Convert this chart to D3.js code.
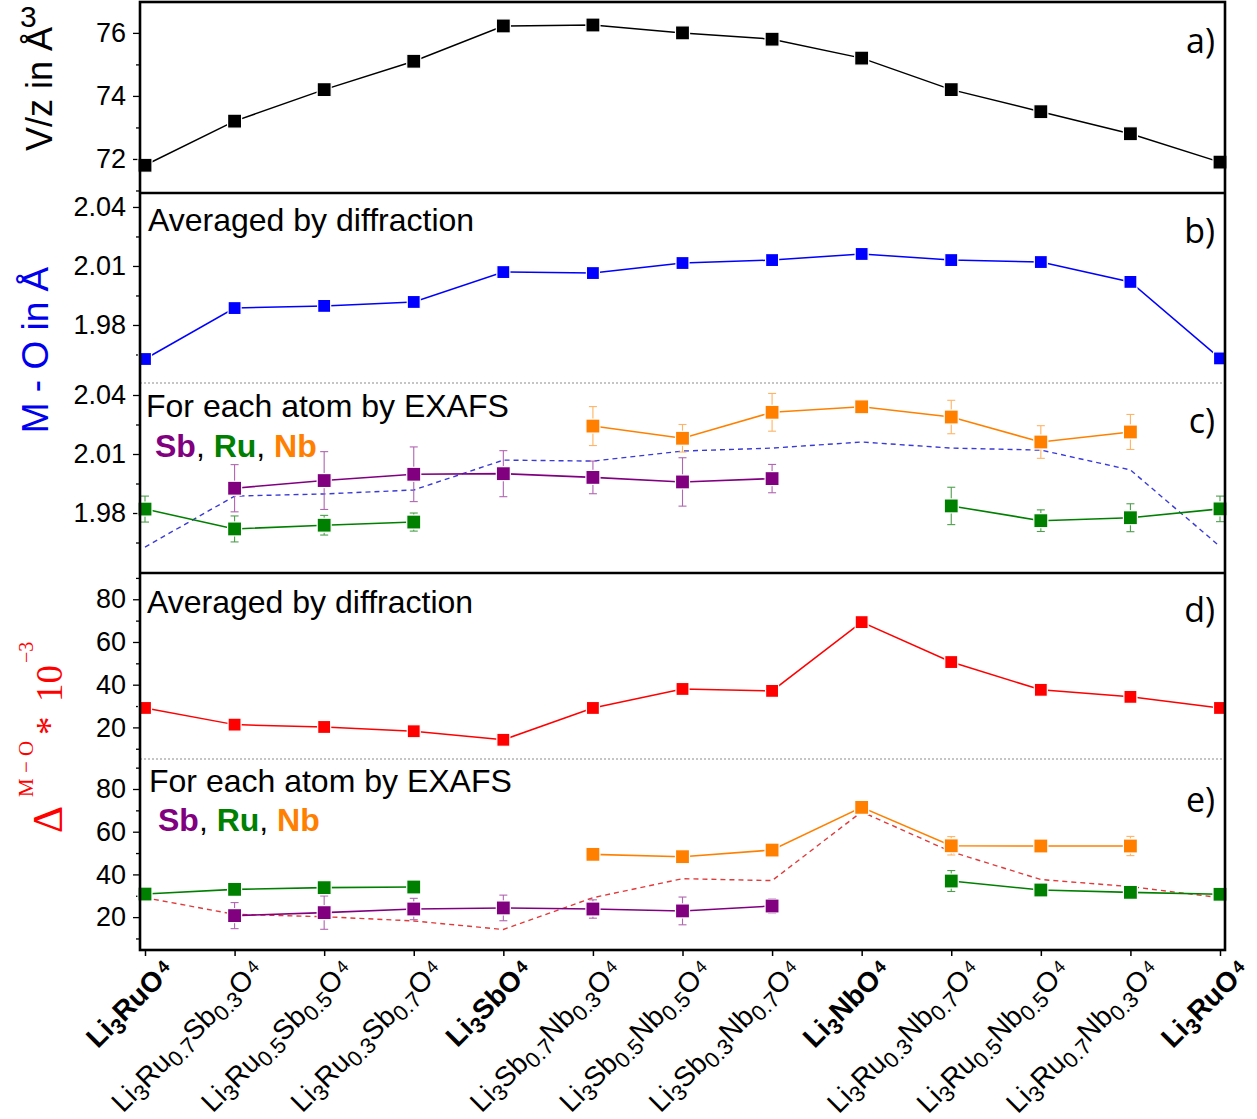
<!DOCTYPE html>
<html><head><meta charset="utf-8">
<script src="https://cdn.jsdelivr.net/npm/d3@7"></script>
<style>body{margin:0;background:#fff}svg{display:block}</style>
</head><body>
<svg id="chart" width="1257" height="1119"></svg>
<script>
// ---------------- DATA ----------------
const categories = ["Li3RuO4","Li3Ru0.7Sb0.3O4","Li3Ru0.5Sb0.5O4","Li3Ru0.3Sb0.7O4","Li3SbO4",
  "Li3Sb0.7Nb0.3O4","Li3Sb0.5Nb0.5O4","Li3Sb0.3Nb0.7O4","Li3NbO4",
  "Li3Ru0.3Nb0.7O4","Li3Ru0.5Nb0.5O4","Li3Ru0.7Nb0.3O4","Li3RuO4"];
const boldCategory = [true,false,false,false,true,false,false,false,true,false,false,false,true];

// a) V/z (Å^3)
const volumePerZ = [71.8,73.2,74.2,75.1,76.22,76.25,76.0,75.8,75.2,74.2,73.5,72.8,71.9];
// b) M-O averaged by diffraction
const mODiffraction = [1.9627,1.9886,1.9897,1.9917,2.0069,2.0064,2.0115,2.0130,2.0161,2.0130,2.0120,2.0019,1.9630];
// c) M-O by EXAFS
const mOSb    = [null,1.9926,1.9965,1.9997,2.0000,1.9981,1.9958,1.9975,null,null,null,null,null];
const mOSbErr = [null,0.0120,0.0147,0.0139,0.0117,0.0083,0.0123,0.0072,null,null,null,null,null];
const mORu    = [1.9820,1.9719,1.9738,1.9754,null,null,null,null,null,1.9836,1.9761,1.9776,1.9821];
const mORuErr = [0.0066,0.0066,0.0050,0.0046,null,null,null,null,null,0.0095,0.0055,0.0071,0.0065];
const mONb    = [null,null,null,null,null,2.0242,2.0180,2.0312,2.0340,2.0288,2.0161,2.0212,null];
const mONbErr = [null,null,null,null,null,0.0099,0.0070,0.0096,0.0000,0.0085,0.0083,0.0089,null];
// d) distortion averaged by diffraction (x 10^-3)
const distDiffraction = [29.1,21.3,20.2,18.2,14.2,29.1,38.0,37.1,69.3,50.6,37.6,34.3,29.1];
// e) distortion by EXAFS
const distSb    = [null,20.7,22.1,23.8,24.3,23.8,22.9,25.2,null,null,null,null,null];
const distSbErr = [null,6.1,7.8,5.0,6.0,4.3,6.5,3.5,null,null,null,null,null];
const distRu    = [30.8,33.0,33.8,34.1,null,null,null,null,null,36.9,32.7,31.6,30.7];
const distRuErr = [2.0,3.1,2.0,2.0,null,null,null,null,null,4.9,2.0,3.1,2.5];
const distNb    = [null,null,null,null,null,49.4,48.3,51.4,71.4,53.4,53.3,53.3,null];
const distNbErr = [null,null,null,null,null,2.0,2.5,3.0,1.0,4.3,2.0,4.5,null];

// tick values
const ticksA = [72,74,76],            minorA = [71,73,75];
const ticksMO = [1.98,2.01,2.04],     minorMO = [1.965,1.995,2.025];
const ticksDist = [20,40,60,80],      minorDist = [10,30,50,70,90];

// ---------------- DRAWING ----------------
const svg = d3.select("#chart");
const SANS = "'Liberation Sans', Arial, Helvetica, sans-serif";
const SERIF = "'Liberation Serif', 'Times New Roman', serif";
const L = 140, R = 1225;

const x = d3.scalePoint().domain(d3.range(categories.length)).range([145, 1220]);

const yA = d3.scaleLinear().domain([70.92, 76.98]).range([193, 2]);
const yB = d3.scaleLinear().domain([1.9505, 2.0471]).range([383, 193]);
const yC = d3.scaleLinear().domain([1.9495, 2.0461]).range([573, 383]);
const yD = d3.scaleLinear().domain([5.2, 92.3]).range([759, 573]);
const yE = d3.scaleLinear().domain([4.6, 94.05]).range([950, 759]);

function yAxis(y, major, minor, fmt) {
  const g = svg.append("g").attr("transform", `translate(${L},0)`);
  const gMin = g.append("g").call(d3.axisLeft(y).tickValues(minor).tickSize(4).tickFormat(""));
  const gMaj = g.append("g").call(d3.axisLeft(y).tickValues(major).tickSize(7).tickPadding(7).tickFormat(fmt));
  [gMin, gMaj].forEach(a => {
    a.select(".domain").remove();
    a.selectAll("line").attr("stroke", "#000").attr("stroke-width", 1.3);
  });
  gMaj.selectAll("text").attr("font-family", SANS).attr("font-size", 27).attr("fill", "#000");
}
yAxis(yA, ticksA, minorA, d3.format("d"));
yAxis(yB, ticksMO, minorMO, d3.format(".2f"));
yAxis(yC, ticksMO, minorMO, d3.format(".2f"));
yAxis(yD, ticksDist, minorDist, d3.format("d"));
yAxis(yE, ticksDist, minorDist, d3.format("d"));

// bottom x ticks
const gx = svg.append("g").attr("transform", "translate(0,950)")
  .call(d3.axisBottom(x).tickSize(6).tickFormat(""));
gx.select(".domain").remove();
gx.selectAll("line").attr("stroke", "#000").attr("stroke-width", 1.5);

// separators (dotted)
[383, 759].forEach(yy => svg.append("line").attr("x1", L).attr("x2", R).attr("y1", yy).attr("y2", yy)
  .attr("stroke", "#8c8c8c").attr("stroke-width", 1.2).attr("stroke-dasharray", "2,2"));

function series(y, vals, errs, color, errColor, opt = {}) {
  const pts = vals.map((v, i) => ({ i, v, e: errs ? errs[i] : null }));
  const line = d3.line().defined(d => d.v != null).x(d => x(d.i)).y(d => y(d.v));
  const g = svg.append("g");
  g.append("path").attr("d", line(pts)).attr("fill", "none").attr("stroke", color)
    .attr("stroke-width", opt.width || 1.6).attr("stroke-dasharray", opt.dash || null);
  if (opt.noMarkers) return;
  const valid = pts.filter(d => d.v != null);
  if (errs) {
    const eb = g.append("g").attr("stroke", errColor).attr("stroke-width", 1.1);
    valid.filter(d => d.e).forEach(d => {
      const y1 = y(d.v - d.e), y2 = y(d.v + d.e), cx = x(d.i);
      eb.append("line").attr("x1", cx).attr("x2", cx).attr("y1", y1).attr("y2", y2);
      eb.append("line").attr("x1", cx - 4).attr("x2", cx + 4).attr("y1", y1).attr("y2", y1);
      eb.append("line").attr("x1", cx - 4).attr("x2", cx + 4).attr("y1", y2).attr("y2", y2);
    });
  }
  const s = opt.size || 14;
  g.selectAll("rect.m").data(valid).join("rect")
    .attr("x", d => x(d.i) - s / 2).attr("y", d => y(d.v) - s / 2)
    .attr("width", s).attr("height", s).attr("fill", color)
    .attr("stroke", "#fff").attr("stroke-width", 1.2);
}

const PURPLE = "#800080", GREEN = "#008000", ORANGE = "#ff8000";
const PURPLE_E = "#b066b0", GREEN_E = "#4d9f4d", ORANGE_E = "#ffb366";

// a
series(yA, volumePerZ, null, "#000", null, { size: 14, width: 1.5 });
// b
series(yB, mODiffraction, null, "#0000ff", null, { size: 13, width: 1.5 });
// c
series(yC, mODiffraction, null, "#3a3ad6", null, { noMarkers: true, dash: "5,4", width: 1.4 });
series(yC, mOSb, mOSbErr, PURPLE, PURPLE_E);
series(yC, mORu, mORuErr, GREEN, GREEN_E);
series(yC, mONb, mONbErr, ORANGE, ORANGE_E);
// d
series(yD, distDiffraction, null, "#ff0000", null, { size: 13, width: 1.5 });
// e
series(yE, distDiffraction, null, "#e03a3a", null, { noMarkers: true, dash: "5,4", width: 1.4 });
series(yE, distSb, distSbErr, PURPLE, PURPLE_E);
series(yE, distRu, distRuErr, GREEN, GREEN_E);
series(yE, distNb, distNbErr, ORANGE, ORANGE_E);

// frame and solid separators
svg.append("rect").attr("x", L).attr("y", 2).attr("width", R - L).attr("height", 948)
  .attr("fill", "none").attr("stroke", "#000").attr("stroke-width", 2.6);
[193, 573].forEach(yy => svg.append("line").attr("x1", L).attr("x2", R).attr("y1", yy).attr("y2", yy)
  .attr("stroke", "#000").attr("stroke-width", 2.6));

// in-panel texts
function txt(xp, yp, s, size, opts = {}) {
  return svg.append("text").attr("x", xp).attr("y", yp).attr("font-family", opts.font || SANS)
    .attr("font-size", size).attr("fill", opts.fill || "#000")
    .attr("font-weight", opts.weight || null).attr("text-anchor", opts.anchor || "start").text(s);
}
txt(148, 231, "Averaged by diffraction", 32);
txt(146, 417, "For each atom by EXAFS", 32);
txt(147, 613, "Averaged by diffraction", 32);
txt(149, 792, "For each atom by EXAFS", 32);

function legend(xp, yp) {
  const t = svg.append("text").attr("x", xp).attr("y", yp).attr("font-family", SANS)
    .attr("font-size", 32).attr("font-weight", "bold");
  [["Sb", PURPLE], [", ", "#000"], ["Ru", GREEN], [", ", "#000"], ["Nb", ORANGE]].forEach(([s, c]) =>
    t.append("tspan").attr("fill", c).attr("font-weight", c === "#000" ? "normal" : "bold").text(s));
}
legend(155, 457);
legend(158, 831);

// panel letters
const PANEL_FONT = "'Open Sans', 'Liberation Sans', sans-serif";
[["a)", 53], ["b)", 243], ["c)", 433], ["d)", 622], ["e)", 812]].forEach(([s, yy]) =>
  txt(1215, yy, s, 34, { anchor: "end", font: PANEL_FONT }));

// y-axis titles
svg.append("text").attr("transform", "translate(52,151) rotate(-90)")
  .attr("font-family", SANS).attr("font-size", 36).attr("fill", "#000").text("V/z in Å");
svg.append("text").attr("x", 20).attr("y", 27).attr("font-family", SANS).attr("font-size", 30)
  .attr("fill", "#000").text("3");

svg.append("text").attr("transform", "translate(48,350) rotate(-90)").attr("text-anchor", "middle")
  .attr("font-family", SANS).attr("font-size", 37).attr("fill", "#0000ee").text("M - O in Å");

const gd = svg.append("g").attr("transform", "translate(62,833) rotate(-90)")
  .attr("font-family", SERIF).attr("fill", "#f00");
gd.append("text").attr("x", 0).attr("y", 0).attr("font-size", 42).text("Δ");
gd.append("text").attr("x", 36).attr("y", -29).attr("font-size", 21).text("M − O");
gd.append("text").attr("x", 98).attr("y", 0).attr("font-size", 37).text("*");
gd.append("text").attr("x", 131).attr("y", 0).attr("font-size", 37).text("10");
gd.append("text").attr("x", 170).attr("y", -29).attr("font-size", 20).text("−3");

// x category labels
function tokens(s) { return s.match(/[A-Z][a-z]?|[\d.]+/g); }
categories.forEach((c, i) => {
  const t = svg.append("text")
    .attr("transform", `translate(${x(i) + 30},972) rotate(-45)`)
    .attr("text-anchor", "end").attr("font-family", SANS).attr("fill", "#000")
    .attr("font-weight", boldCategory[i] ? "bold" : "normal");
  const tk = tokens(c);
  let cur = 0;
  tk.forEach((p, k) => {
    let target, size, dx = 0;
    const isNum = /^[\d.]/.test(p);
    if (!isNum) { target = 0; size = 28; }
    else if (k === tk.length - 1) { target = -6; size = 18; dx = 3; }
    else { target = 6; size = 22; }
    t.append("tspan").attr("dy", target - cur).attr("dx", dx).attr("font-size", size).text(p);
    cur = target;
  });
});
</script>
</body></html>
